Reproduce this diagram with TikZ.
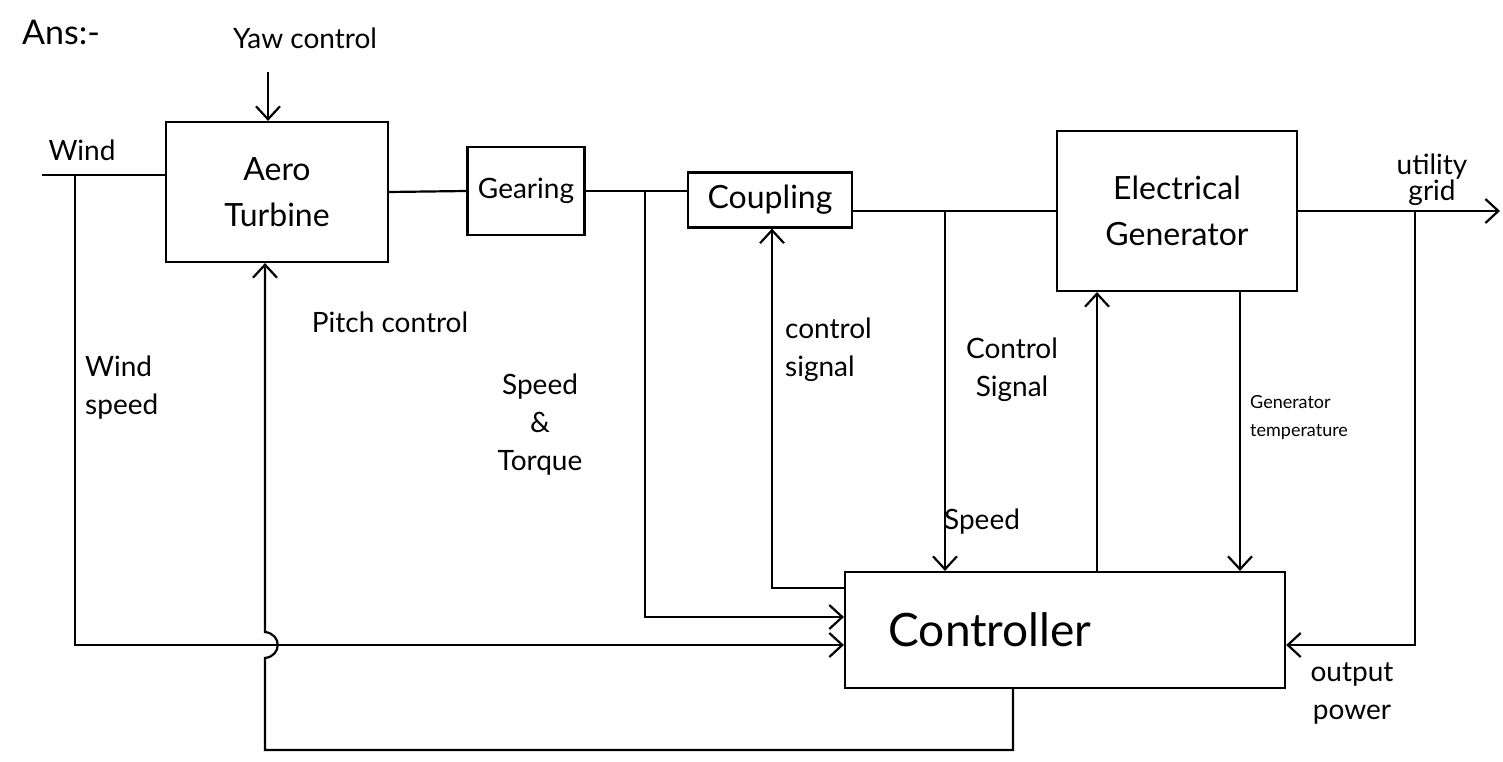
\documentclass[tikz,border=0pt]{standalone}
\usepackage{fontspec}
\setmainfont{Lato}
\usetikzlibrary{arrows.meta}
\tikzset{
  blk/.style={draw, line width=2.2pt, rectangle, inner sep=0pt, align=center, font=\fontsize{32}{46}\selectfont},
  wire/.style={line width=2.2pt},
  arr/.style={line width=2.2pt, -{Straight Barb[length=13pt,width=24pt,line width=2.2pt]}},
  lbl/.style={inner sep=0pt, font=\fontsize{28}{38}\selectfont},
  lblc/.style={lbl, align=center},
  lbll/.style={lbl, align=left},
  small/.style={inner sep=0pt, align=left, font=\fontsize{18}{28}\selectfont}
}
\begin{document}
\begin{tikzpicture}[x=1pt,y=-1pt]
\useasboundingbox (0,0) rectangle (1503,762);
\fill[white] (0,0) rectangle (1503,762);

% blocks
\node[blk, minimum width=222pt, minimum height=140pt] (aero) at (277,192) {Aero\\Turbine};
\node[blk, minimum width=117pt, minimum height=88pt, font=\fontsize{28}{34}\selectfont] (gear) at (526,191) {Gearing};
\node[blk, minimum width=164pt, minimum height=55pt] (coup) at (770,200) {Coupling};
\node[blk, minimum width=240pt, minimum height=160pt] (gen) at (1177,211) {Electrical\\Generator};
\node[blk, minimum width=440pt, minimum height=116pt, font=\fontsize{46}{50}\selectfont] (ctrl) at (1065,630) {\hspace*{-150pt}Controller};

% coordinates
\coordinate (windin) at (42,175);
\coordinate (ws) at (75,175);
\coordinate (wsb) at (75,645);
\coordinate (yawin) at (268,72);
\coordinate (st) at (645,191);
\coordinate (stb) at (645,617);
\coordinate (cs) at (772,588);
\coordinate (sp) at (945,211);
\coordinate (op) at (1415,211);
\coordinate (opb) at (1415,645);
\coordinate (grid) at (1500,211);
\coordinate (pc1) at (1013,750);
\coordinate (pc2) at (265,750);

% main chain
\draw[wire] (windin) -- (windin -| aero.west);
\draw[wire] (aero.east) -- (gear.west);
\draw[wire] (gear.east) -- (coup.west |- gear.east);
\draw[wire] (coup.east |- sp) -- (gen.west);
\draw[arr] (gen.east) -- (grid);
\draw[arr] (yawin) -- (aero.north -| yawin);

% wind speed
\draw[arr] (ws) -- (wsb) -- (wsb -| ctrl.west);
% speed & torque
\draw[arr] (st) -- (stb) -- (stb -| ctrl.west);
% control signal to coupling
\draw[arr] (cs -| ctrl.west) -- (cs) -- (cs |- coup.south);
% speed
\draw[arr] (sp) -- (sp |- ctrl.north);
% control signal to generator
\draw[arr] (ctrl.north -| 1097,0) -- (gen.south -| 1097,0);
% generator temperature
\draw[arr] (gen.south -| 1240,0) -- (ctrl.north -| 1240,0);
% output power
\draw[arr] (op) -- (opb) -- (opb -| ctrl.east);
% pitch control with bridge
\draw[arr] (ctrl.south -| pc1) -- (pc1) -- (pc2) -- (265,658)
  .. controls (282,656) and (282,634) .. (265,632) -- (aero.south -| pc2);

% labels
\node[lbl, anchor=west, font=\fontsize{34}{36}\selectfont] (ans) at (22,32) {Ans:-};
\node[lbl] (yawl) at (305,38) {Yaw control};
\node[lbl] (windl) at (82,150) {Wind};
\node[lblc, font=\fontsize{28}{24}\selectfont] (gridl) at (1432,180) {utility\\grid};
\node[lbl] (pitchl) at (390,322) {Pitch control};
\node[lbll, anchor=north west] (wsl) at (85,356) {Wind\\speed};
\node[lblc] (stl) at (540,425) {Speed\\\&\\Torque};
\node[lbll, anchor=north west] (csl) at (785,318) {control\\signal};
\node[lblc] (csl2) at (1012,370) {Control\\Signal};
\node[lbl] (spl) at (982,522) {Speed};
\node[small, anchor=north west] (gtl) at (1250,395) {Generator\\temperature};
\node[lblc] (opl) at (1352,693) {output\\power};
\end{tikzpicture}
\end{document}
